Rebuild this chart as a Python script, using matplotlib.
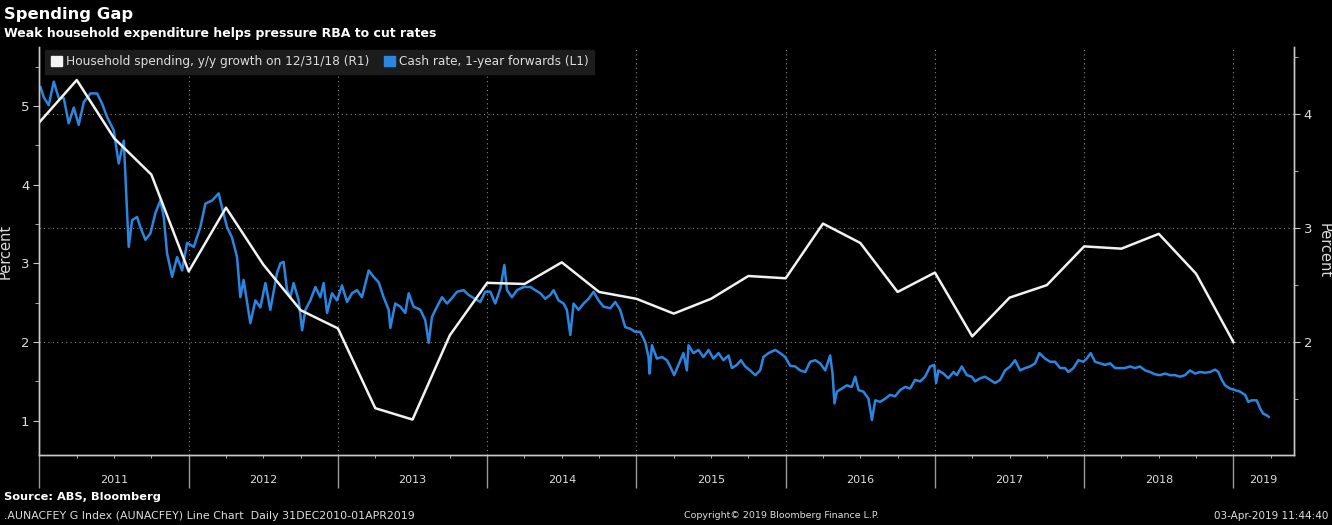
import numpy as np
import pandas as pd
import matplotlib
matplotlib.use("Agg")
import matplotlib.pyplot as plt
from matplotlib.patches import Patch
from matplotlib.transforms import blended_transform_factory

# Household spending, y/y growth (right axis), quarterly
spend_quarters = ["2010Q4", "2011Q1", "2011Q2", "2011Q3", "2011Q4", "2012Q1", "2012Q2",
                  "2012Q3", "2012Q4", "2013Q1", "2013Q2", "2013Q3", "2013Q4", "2014Q1",
                  "2014Q2", "2014Q3", "2014Q4", "2015Q1", "2015Q2", "2015Q3", "2015Q4",
                  "2016Q1", "2016Q2", "2016Q3", "2016Q4", "2017Q1", "2017Q2", "2017Q3",
                  "2017Q4", "2018Q1", "2018Q2", "2018Q3", "2018Q4"]
spend_growth = [3.93, 4.30, 3.79, 3.47, 2.62, 3.18, 2.68, 2.28, 2.12, 1.42, 1.32, 2.06,
                2.52, 2.51, 2.70, 2.44, 2.38, 2.25, 2.38, 2.58, 2.56, 3.04, 2.87, 2.44,
                2.61, 2.05, 2.39, 2.50, 2.84, 2.82, 2.95, 2.60, 2.00]

# Cash rate, 1-year forwards (left axis), decimal year
cash_t = [2011.007, 2011.029, 2011.062, 2011.096, 2011.129, 2011.163, 2011.196, 2011.230,
          2011.263, 2011.297, 2011.342, 2011.386, 2011.420, 2011.453, 2011.498, 2011.531,
          2011.565, 2011.587, 2011.598, 2011.621, 2011.654, 2011.676, 2011.710, 2011.743,
          2011.777, 2011.810, 2011.833, 2011.855, 2011.889, 2011.922, 2011.956, 2011.989,
          2012.034, 2012.078, 2012.112, 2012.157, 2012.201, 2012.223, 2012.257, 2012.290,
          2012.324, 2012.346, 2012.368, 2012.413, 2012.447, 2012.480, 2012.514, 2012.547,
          2012.592, 2012.614, 2012.636, 2012.659, 2012.681, 2012.703, 2012.737, 2012.760,
          2012.782, 2012.815, 2012.849, 2012.882, 2012.904, 2012.927, 2012.960, 2012.994,
          2013.027, 2013.061, 2013.094, 2013.128, 2013.161, 2013.206, 2013.239, 2013.273,
          2013.306, 2013.340, 2013.351, 2013.384, 2013.418, 2013.451, 2013.474, 2013.507,
          2013.552, 2013.585, 2013.608, 2013.630, 2013.664, 2013.697, 2013.731, 2013.764,
          2013.798, 2013.842, 2013.875, 2013.909, 2013.954, 2013.987, 2014.021, 2014.054,
          2014.088, 2014.115, 2014.133, 2014.166, 2014.200, 2014.244, 2014.289, 2014.322,
          2014.356, 2014.389, 2014.423, 2014.445, 2014.478, 2014.512, 2014.534, 2014.557,
          2014.579, 2014.612, 2014.646, 2014.679, 2014.713, 2014.746, 2014.780, 2014.825,
          2014.858, 2014.891, 2014.925, 2014.958, 2014.992, 2015.025, 2015.059, 2015.081,
          2015.088, 2015.104, 2015.137, 2015.171, 2015.204, 2015.226, 2015.253, 2015.282,
          2015.315, 2015.338, 2015.349, 2015.382, 2015.416, 2015.449, 2015.483, 2015.516,
          2015.550, 2015.583, 2015.617, 2015.640, 2015.673, 2015.700, 2015.729, 2015.762,
          2015.796, 2015.829, 2015.851, 2015.885, 2015.930, 2015.963, 2015.997, 2016.030,
          2016.064, 2016.097, 2016.131, 2016.164, 2016.198, 2016.231, 2016.265, 2016.298,
          2016.314, 2016.327, 2016.343, 2016.376, 2016.410, 2016.443, 2016.466, 2016.488,
          2016.521, 2016.555, 2016.578, 2016.600, 2016.633, 2016.666, 2016.700, 2016.733,
          2016.767, 2016.800, 2016.834, 2016.867, 2016.901, 2016.934, 2016.968, 2016.995,
          2017.008, 2017.023, 2017.057, 2017.090, 2017.124, 2017.147, 2017.180, 2017.214,
          2017.247, 2017.269, 2017.303, 2017.336, 2017.370, 2017.403, 2017.437, 2017.470,
          2017.504, 2017.537, 2017.571, 2017.604, 2017.638, 2017.671, 2017.700, 2017.738,
          2017.772, 2017.805, 2017.839, 2017.872, 2017.894, 2017.928, 2017.961, 2017.995,
          2018.017, 2018.044, 2018.073, 2018.107, 2018.140, 2018.174, 2018.207, 2018.241,
          2018.274, 2018.307, 2018.341, 2018.374, 2018.408, 2018.441, 2018.475, 2018.508,
          2018.542, 2018.575, 2018.609, 2018.642, 2018.676, 2018.709, 2018.743, 2018.776,
          2018.810, 2018.843, 2018.877, 2018.899, 2018.922, 2018.944, 2018.977, 2019.011,
          2019.044, 2019.078, 2019.100, 2019.123, 2019.156, 2019.178, 2019.200, 2019.223,
          2019.236]
cash_rate = [5.24, 5.11, 5.01, 5.31, 5.10, 5.10, 4.78, 4.98, 4.76, 5.05, 5.16, 5.16, 5.03,
             4.86, 4.69, 4.27, 4.56, 3.64, 3.21, 3.55, 3.59, 3.46, 3.30, 3.38, 3.64, 3.80,
             3.59, 3.13, 2.83, 3.08, 2.91, 3.26, 3.21, 3.46, 3.76, 3.80, 3.89, 3.71, 3.46,
             3.33, 3.08, 2.57, 2.79, 2.24, 2.53, 2.44, 2.75, 2.41, 2.88, 3.00, 3.02, 2.66,
             2.57, 2.75, 2.53, 2.15, 2.41, 2.53, 2.70, 2.57, 2.75, 2.37, 2.62, 2.53, 2.72,
             2.51, 2.62, 2.66, 2.57, 2.91, 2.83, 2.76, 2.57, 2.41, 2.18, 2.49, 2.45, 2.37,
             2.62, 2.45, 2.41, 2.28, 1.99, 2.32, 2.45, 2.57, 2.49, 2.56, 2.64, 2.66, 2.60,
             2.56, 2.51, 2.64, 2.64, 2.49, 2.68, 2.98, 2.66, 2.57, 2.66, 2.70, 2.70, 2.66,
             2.62, 2.55, 2.60, 2.66, 2.53, 2.49, 2.41, 2.09, 2.49, 2.41, 2.49, 2.55, 2.64,
             2.53, 2.45, 2.43, 2.51, 2.41, 2.19, 2.17, 2.13, 2.13, 2.00, 1.81, 1.60, 1.96,
             1.79, 1.81, 1.77, 1.69, 1.58, 1.71, 1.86, 1.64, 1.96, 1.86, 1.90, 1.81, 1.90,
             1.79, 1.86, 1.77, 1.83, 1.67, 1.71, 1.77, 1.69, 1.64, 1.58, 1.64, 1.81, 1.86,
             1.90, 1.86, 1.81, 1.70, 1.69, 1.64, 1.62, 1.75, 1.77, 1.73, 1.64, 1.83, 1.60,
             1.22, 1.37, 1.41, 1.45, 1.43, 1.56, 1.39, 1.37, 1.28, 1.01, 1.26, 1.24, 1.28,
             1.33, 1.31, 1.39, 1.43, 1.41, 1.52, 1.50, 1.56, 1.69, 1.71, 1.48, 1.64, 1.60,
             1.54, 1.62, 1.58, 1.69, 1.58, 1.56, 1.50, 1.54, 1.56, 1.52, 1.48, 1.52, 1.64,
             1.69, 1.77, 1.64, 1.67, 1.69, 1.73, 1.86, 1.79, 1.75, 1.75, 1.67, 1.67, 1.62,
             1.67, 1.77, 1.75, 1.79, 1.86, 1.75, 1.73, 1.71, 1.73, 1.67, 1.67, 1.67, 1.69,
             1.67, 1.69, 1.64, 1.62, 1.59, 1.58, 1.60, 1.58, 1.58, 1.56, 1.58, 1.64, 1.60,
             1.62, 1.61, 1.62, 1.65, 1.62, 1.52, 1.45, 1.41, 1.39, 1.37, 1.33, 1.24, 1.26,
             1.26, 1.16, 1.09, 1.07, 1.05]

years = list(range(2011, 2020))
year_edges = list(range(2011, 2020))

spend_periods = pd.PeriodIndex(spend_quarters, freq="Q")
spend_t = [p.year + p.quarter / 4 for p in spend_periods]

X0, X1 = 2010.997, 2019.406

BG = "#000000"
AXIS_C = "#c8c8c8"
GRID_C = "#8a8a8a"
TEXT_C = "#dcdcdc"
BLUE = "#2a86e0"
WHITE = "#f2f2f2"

plt.rcParams["font.family"] = ["DejaVu Sans"]

fig = plt.figure(figsize=(13.32, 5.25), dpi=100, facecolor=BG)
ax1 = fig.add_axes([39 / 1332, 1 - 455 / 525, (1294 - 39) / 1332, (455 - 47) / 525])
ax1.set_facecolor(BG)
ax2 = ax1.twinx()

ax1.plot(cash_t, cash_rate, color=BLUE, lw=1.8, solid_joinstyle="round")
ax2.plot(spend_t, spend_growth, color=WHITE, lw=1.8)

for ax in (ax1, ax2):
    ax.spines["top"].set_visible(False)
    for side in ("left", "right", "bottom"):
        ax.spines[side].set_color(AXIS_C)
        ax.spines[side].set_linewidth(1.0)

ax1.set_yticks([1, 2, 3, 4, 5])
ax1.set_yticks([1.5, 2.5, 3.5, 4.5, 5.5], minor=True)
ax2.set_yticks([2, 3, 4])
ax2.set_yticks([1.5, 2.5, 3.5, 4.5], minor=True)
ax1.tick_params(axis="y", which="major", length=4, color=AXIS_C, labelcolor=TEXT_C,
                labelsize=9.5, pad=3)
ax1.tick_params(axis="y", which="minor", length=3, color=AXIS_C)
ax2.tick_params(axis="y", which="major", length=4, color=AXIS_C, labelcolor=TEXT_C,
                labelsize=9.5, pad=3)
ax2.tick_params(axis="y", which="minor", length=3, color=AXIS_C)

# x axis: year separators as long ticks, quarter minor ticks
quarter_ticks = [y + q for y in range(2011, 2020) for q in (0.25, 0.5, 0.75)
                 if y + q < X1]
ax1.set_xticks(year_edges)
ax1.set_xticklabels([])
ax1.set_xticks(quarter_ticks, minor=True)
ax1.tick_params(axis="x", which="major", length=24, width=1.0, color="#9a9a9a")
ax1.tick_params(axis="x", which="minor", length=2.5, color=AXIS_C)

# limits after ticks (set_xticks widens the view)
ax1.set_xlim(X0, X1)
ax1.set_ylim(0.565, 5.75)
ax2.set_ylim(1.009, 4.59)

trans = blended_transform_factory(ax1.transData, ax1.transAxes)
for yr in years:
    cx = (yr + X1) / 2 if yr == 2019 else yr + 0.5
    ax1.text(cx, -0.062, str(yr), transform=trans, ha="center", va="center",
             color=TEXT_C, fontsize=8)

# grid
for xe in year_edges[1:]:
    ax1.axvline(xe, color=GRID_C, lw=0.8, ls=(0, (1, 3)), zorder=0)
ax2.yaxis.grid(True, which="major", color=GRID_C, lw=0.8, ls=(0, (1, 3)))

ax1.set_ylabel("Percent", color=TEXT_C, fontsize=10.5, labelpad=6)
ax2.set_ylabel("Percent", color=TEXT_C, fontsize=10.5, rotation=-90, labelpad=14)

handles = [Patch(facecolor=WHITE, edgecolor=WHITE),
           Patch(facecolor=BLUE, edgecolor=BLUE)]
labels = ["Household spending, y/y growth on 12/31/18 (R1)",
          "Cash rate, 1-year forwards (L1)"]
leg = ax2.legend(handles, labels, loc="upper left", bbox_to_anchor=(0.005, 0.993),
                 ncol=2, frameon=True, fancybox=False, facecolor="#1c1c1c",
                 edgecolor="#1c1c1c", framealpha=1.0, fontsize=8.7,
                 handlelength=0.9, handleheight=0.9, handletextpad=0.35,
                 columnspacing=1.2, borderpad=0.45, borderaxespad=0)
for t in leg.get_texts():
    t.set_color(TEXT_C)

fig.text(0.003, 1 - 14 / 525, "Spending Gap", color="white", fontsize=11.8,
         fontweight="bold", va="center", ha="left")
fig.text(0.003, 1 - 33 / 525, "Weak household expenditure helps pressure RBA to cut rates",
         color="white", fontsize=9.0, fontweight="bold", va="center", ha="left")
fig.text(0.003, 1 - 497 / 525, "Source: ABS, Bloomberg", color="white", fontsize=8.2,
         fontweight="bold", va="center", ha="left")
fig.text(0.003, 1 - 516 / 525,
         ".AUNACFEY G Index (AUNACFEY) Line Chart  Daily 31DEC2010-01APR2019",
         color=TEXT_C, fontsize=7.9, va="center", ha="left")
fig.text(782 / 1332, 1 - 516 / 525, "Copyright\u00a9 2019 Bloomberg Finance L.P.",
         color=TEXT_C, fontsize=6.8, va="center", ha="center")
fig.text(1328 / 1332, 1 - 516 / 525, "03-Apr-2019 11:44:40", color=TEXT_C,
         fontsize=7.5, va="center", ha="right")

fig.savefig("out.png", dpi=100, facecolor=BG)
